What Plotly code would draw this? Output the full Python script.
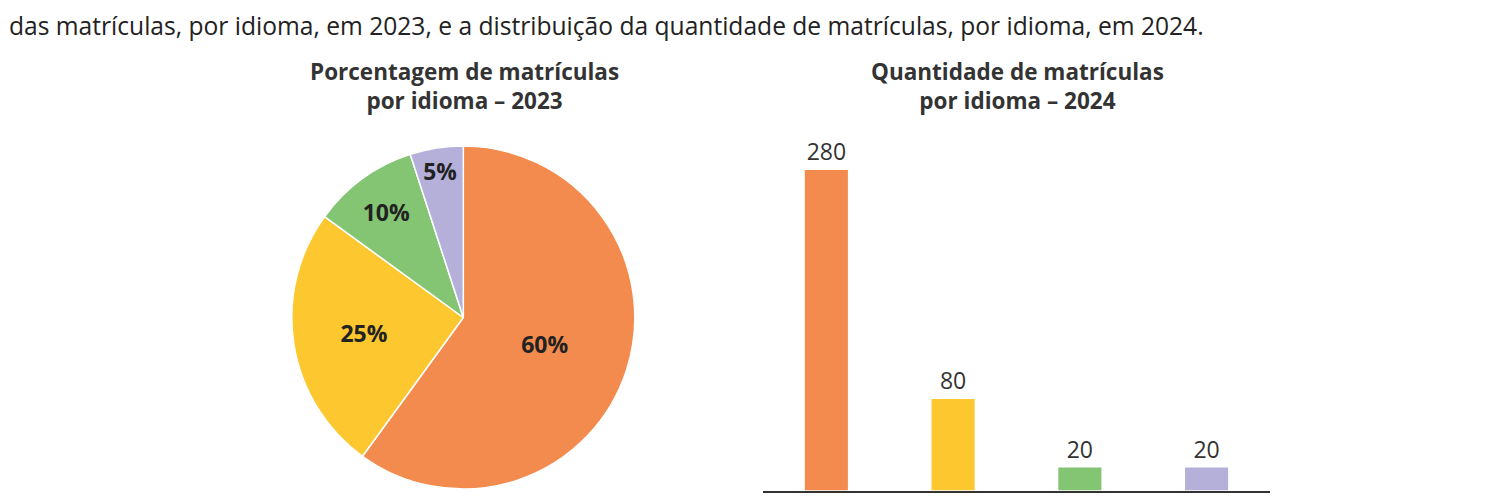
import plotly.graph_objects as go

# dados
idiomas = ["Idioma 1", "Idioma 2", "Idioma 3", "Idioma 4"]
porcentagem_2023 = [60, 25, 10, 5]
quantidade_2024 = [280, 80, 20, 20]
cores = ["#F38B4E", "#FDC82F", "#84C574", "#B4B0DA"]

fonte = "Open Sans"

fig = go.Figure()

# pizza 2023
fig.add_trace(go.Pie(
    labels=idiomas,
    values=porcentagem_2023,
    sort=False,
    direction="clockwise",
    rotation=0,
    marker=dict(colors=cores, line=dict(color="white", width=1.5)),
    texttemplate="%{value}%",
    textposition="inside",
    insidetextorientation="horizontal",
    textfont=dict(family=fonte, size=23, color="#222222", weight="bold"),
    domain=dict(x=[0.1910, 0.4222], y=[0.038, 0.724]),
    showlegend=False,
    hoverinfo="label+percent",
))

# barras 2024
fig.add_trace(go.Bar(
    x=idiomas,
    y=quantidade_2024,
    marker=dict(color=cores, line=dict(width=0)),
    text=quantidade_2024,
    textposition="outside",
    cliponaxis=False,
    textfont=dict(family=fonte, size=23, color="#333333"),
    showlegend=False,
))

fig.update_layout(
    width=1485,
    height=500,
    margin=dict(l=0, r=0, t=0, b=0),
    paper_bgcolor="white",
    plot_bgcolor="white",
    bargap=0.66,
    font=dict(family=fonte, color="#333333"),
    xaxis=dict(
        domain=[0.5084, 0.8498],
        range=[-0.5, 3.5],
        showticklabels=False,
        showgrid=False,
        zeroline=False,
        showline=True,
        linecolor="#333333",
        linewidth=2,
        ticks="",
    ),
    yaxis=dict(
        domain=[0.035, 0.722],
        range=[0, 300],
        visible=False,
    ),
    annotations=[
        dict(
            text="das matrículas, por idioma, em 2023, e a distribuição da quantidade de matrículas, por idioma, em 2024.",
            x=0, y=1, xref="paper", yref="paper",
            xanchor="left", yanchor="top", showarrow=False,
            borderpad=0,
            font=dict(family=fonte, size=24.6, color="#222222"),
        ),
        dict(
            text="Porcentagem de matrículas<br>por idioma – 2023",
            x=0.3071, y=0.845, xref="paper", yref="paper",
            xanchor="center", yanchor="middle", showarrow=False,
            font=dict(family=fonte, size=22.5, color="#333333", weight="bold"),
        ),
        dict(
            text="Quantidade de matrículas<br>por idioma – 2024",
            x=0.6795, y=0.845, xref="paper", yref="paper",
            xanchor="center", yanchor="middle", showarrow=False,
            font=dict(family=fonte, size=22.5, color="#333333", weight="bold"),
        ),
    ],
)

fig.write_html("out.html")
